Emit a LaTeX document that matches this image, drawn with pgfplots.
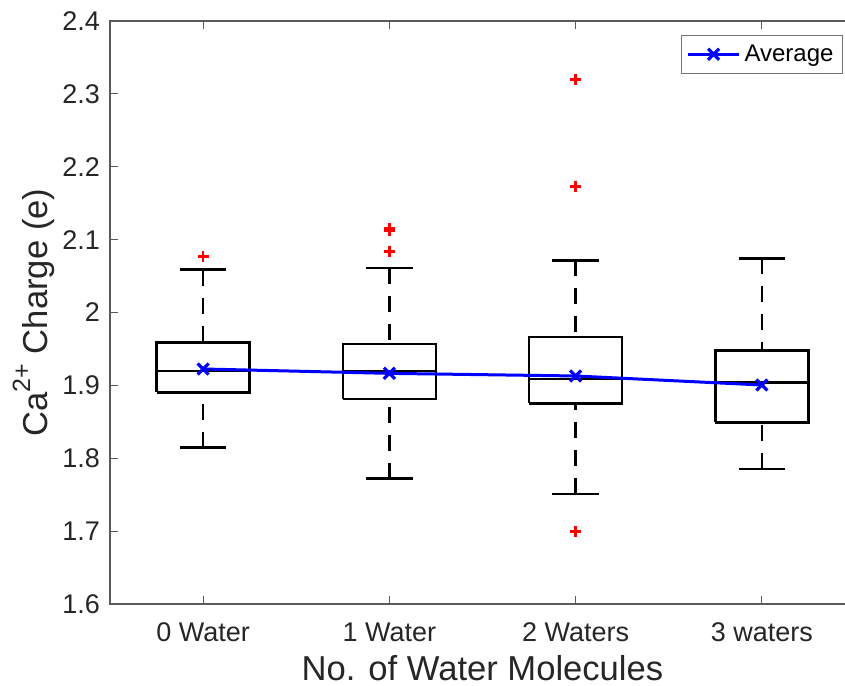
\documentclass[border=0pt]{standalone}
\usepackage{pgfplots}
\pgfplotsset{compat=1.18}
\usepackage{fontspec}
\setmainfont{Liberation Sans}
\definecolor{txt}{RGB}{38,38,38}
\definecolor{axl}{RGB}{90,90,90}
\begin{document}
\begin{tikzpicture}
\useasboundingbox (-55pt,-40.5pt) rectangle (367.5pt,302pt);
\begin{axis}[
  scale only axis,
  width=372.5pt, height=291.5pt,
  xmin=0.5, xmax=4.5,
  ymin=1.6, ymax=2.4,
  xtick={1,2,3,4},
  xticklabels={0 Water, 1 Water, 2 Waters, 3 waters},
  ytick={1.6,1.7,...,2.41},
  /pgf/number format/assume math mode=true,
  yticklabel={\pgfmathprintnumber[fixed,precision=1]{\tick}},
  tick label style={font=\fontsize{13.5}{16}\selectfont, text=txt},
  xticklabel style={yshift=-6pt},
  yticklabel style={xshift=-1.5pt},
  axis line style={axl, line width=0.6pt},
  major tick length=4pt,
  tick style={axl, line width=0.6pt},
  xlabel={No. of Water Molecules},
  ylabel={Ca\raisebox{0.5em}{\fontsize{12.5}{14}\selectfont 2+} Charge (e)},
  xlabel style={font=\fontsize{17.3}{20}\selectfont, text=txt, at={(rel axis cs:0.5,0)}, anchor=north, inner sep=0pt, yshift=-25.5pt},
  ylabel style={font=\fontsize{17.3}{20}\selectfont, text=txt, at={(rel axis cs:0,0.5)}, anchor=south, inner sep=0pt, yshift=27.5pt},
  legend style={at={(1,1)}, anchor=north east, xshift=-6pt, yshift=-7pt, draw=black!55, line width=0.5pt, font=\fontsize{12}{14}\selectfont, inner sep=2.5pt, row sep=0pt},
  legend cell align=left,
  legend image code/.code={\draw[mark repeat=2,mark phase=2] plot coordinates {(0pt,0pt) (12.75pt,0pt) (25.5pt,0pt)};},
  bx/.style={black, line width=1.2pt, forget plot},
  wh/.style={black, line width=1.2pt, forget plot, dash pattern=on 8pt off 6pt},
]
% Box 1 (0 Water): LW 1.8145, Q1 1.8905, M 1.920, Q3 1.959, UW 2.059
\addplot[bx] coordinates {(0.75,1.8905) (1.25,1.8905) (1.25,1.959) (0.75,1.959) (0.75,1.8905)};
\addplot[bx] coordinates {(0.75,1.920) (1.25,1.920)};
\addplot[wh] coordinates {(1,2.059) (1,1.959)};
\addplot[wh] coordinates {(1,1.8145) (1,1.8905)};
\addplot[bx] coordinates {(0.875,2.059) (1.125,2.059)};
\addplot[bx] coordinates {(0.875,1.8145) (1.125,1.8145)};
% Box 2 (1 Water): LW 1.772, Q1 1.881, M 1.920, Q3 1.957, UW 2.061
\addplot[bx] coordinates {(1.75,1.881) (2.25,1.881) (2.25,1.957) (1.75,1.957) (1.75,1.881)};
\addplot[bx] coordinates {(1.75,1.920) (2.25,1.920)};
\addplot[wh] coordinates {(2,2.061) (2,1.957)};
\addplot[wh] coordinates {(2,1.772) (2,1.881)};
\addplot[bx] coordinates {(1.875,2.061) (2.125,2.061)};
\addplot[bx] coordinates {(1.875,1.772) (2.125,1.772)};
% Box 3 (2 Waters): LW 1.751, Q1 1.8754, M 1.9088, Q3 1.966, UW 2.0716
\addplot[bx] coordinates {(2.75,1.8754) (3.25,1.8754) (3.25,1.966) (2.75,1.966) (2.75,1.8754)};
\addplot[bx] coordinates {(2.75,1.9088) (3.25,1.9088)};
\addplot[wh] coordinates {(3,2.0716) (3,1.966)};
\addplot[wh] coordinates {(3,1.751) (3,1.8754)};
\addplot[bx] coordinates {(2.875,2.0716) (3.125,2.0716)};
\addplot[bx] coordinates {(2.875,1.751) (3.125,1.751)};
% Box 4 (3 waters): LW 1.7853, Q1 1.8493, M 1.9037, Q3 1.9476, UW 2.0743
\addplot[bx] coordinates {(3.75,1.8493) (4.25,1.8493) (4.25,1.9476) (3.75,1.9476) (3.75,1.8493)};
\addplot[bx] coordinates {(3.75,1.9037) (4.25,1.9037)};
\addplot[wh] coordinates {(4,2.0743) (4,1.9476)};
\addplot[wh] coordinates {(4,1.7853) (4,1.8493)};
\addplot[bx] coordinates {(3.875,2.0743) (4.125,2.0743)};
\addplot[bx] coordinates {(3.875,1.7853) (4.125,1.7853)};
% outliers
\addplot[only marks, red, mark=+, mark size=2.8pt, mark options={line width=1.2pt}, forget plot] coordinates {
 (1,2.0766) (2,2.1155) (2,2.1125) (2,2.0835) (3,2.320) (3,2.1727) (3,1.6993)};
% means
\addplot[blue, line width=1.5pt, mark=x, mark size=3.9pt, mark options={solid, line width=1.6pt}] coordinates {
 (1,1.9225) (2,1.9165) (3,1.9129) (4,1.9005)};
\addlegendentry{Average}
\end{axis}
\end{tikzpicture}
\end{document}
